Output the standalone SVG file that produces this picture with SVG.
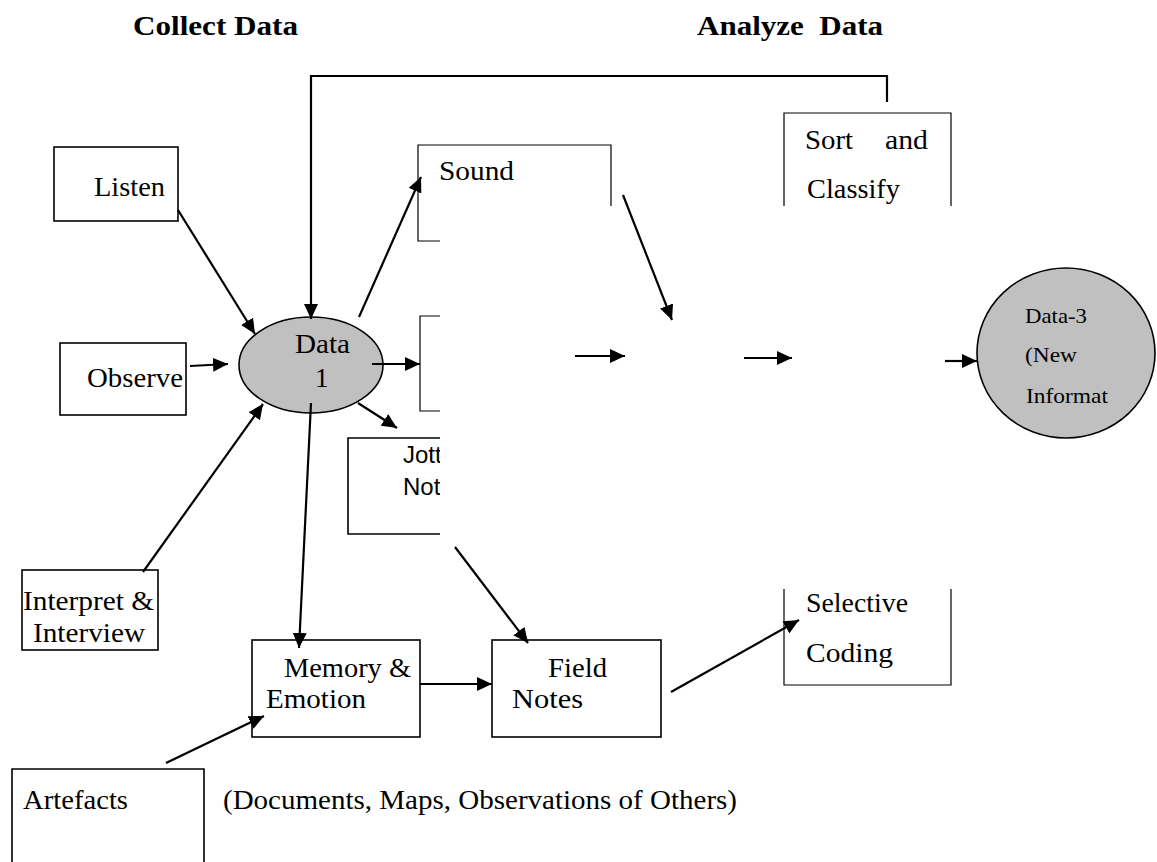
<svg xmlns="http://www.w3.org/2000/svg" width="1157" height="862" viewBox="0 0 1157 862">
<style>
.t{font-family:"Liberation Serif","Times New Roman",serif;font-size:27px;fill:#000}
.h{font-family:"Liberation Serif","Times New Roman",serif;font-size:28px;font-weight:bold;fill:#000}
.s{font-family:"Liberation Serif","Times New Roman",serif;font-size:21px;fill:#000}
.a{font-family:"Liberation Sans",Arial,sans-serif;font-size:24px;fill:#000}
.box{fill:none;stroke:#000;stroke-width:1.6}
.thin{fill:none;stroke:#000;stroke-width:1.2}
.oval{fill:#c0c0c0;stroke:#000;stroke-width:1.6}
.con{fill:none;stroke:#000;stroke-width:2.2}
</style>
<defs>
<marker id="ah" viewBox="0 0 15 14" refX="15" refY="7" markerWidth="15" markerHeight="14" markerUnits="userSpaceOnUse" orient="auto">
<path d="M0,0 L15,7 L0,14 Z" fill="#000"/>
</marker>
<clipPath id="jclip"><rect x="0" y="0" width="440" height="862"/></clipPath>
<clipPath id="cclip"><rect x="0" y="0" width="1157" height="206"/></clipPath>
</defs>
<rect x="0" y="0" width="1157" height="862" fill="#fff"/>

<g id="titles">
<text class="h" x="133" y="35" textLength="165" lengthAdjust="spacingAndGlyphs">Collect Data</text>
<text class="h" x="697" y="35" textLength="186" lengthAdjust="spacingAndGlyphs" xml:space="preserve">Analyze  Data</text>
</g>

<g id="listen">
<rect class="box" x="54" y="147" width="124" height="74"/>
<text class="t" x="94" y="196" textLength="71" lengthAdjust="spacingAndGlyphs">Listen</text>
</g>

<g id="observe">
<rect class="box" x="60" y="343" width="126" height="72"/>
<text class="t" x="87" y="387" textLength="96" lengthAdjust="spacingAndGlyphs">Observe</text>
</g>

<g id="interpret">
<rect class="box" x="22" y="570" width="136" height="80"/>
<text class="t" x="23" y="610" textLength="131" lengthAdjust="spacingAndGlyphs">Interpret &amp;</text>
<text class="t" x="33" y="642" textLength="112" lengthAdjust="spacingAndGlyphs">Interview</text>
</g>

<g id="data1">
<ellipse class="oval" cx="311" cy="365" rx="72" ry="48"/>
<text class="t" x="295" y="353" textLength="55" lengthAdjust="spacingAndGlyphs">Data</text>
<text class="t" x="315" y="387">1</text>
</g>

<g id="sound">
<path class="thin" d="M611,206 V145 H418 V241 H440"/>
<text class="t" x="439" y="180" textLength="75" lengthAdjust="spacingAndGlyphs">Sound</text>
</g>

<g id="middle-box">
<path class="thin" d="M440,316 H420 V411 H440"/>
</g>

<g id="jotted">
<path class="box" d="M440,438 H348 V534 H440"/>
<g clip-path="url(#jclip)">
<text class="a" x="403" y="463">Jott</text>
<text class="a" x="403" y="495">Not</text>
</g>
</g>

<g id="sort">
<path class="thin" d="M784,206 V113 H951 V206"/>
<text class="t" x="805" y="149" textLength="48" lengthAdjust="spacingAndGlyphs">Sort</text>
<text class="t" x="885" y="149" textLength="43" lengthAdjust="spacingAndGlyphs">and</text>
<g clip-path="url(#cclip)">
<text class="t" x="807" y="198" textLength="93" lengthAdjust="spacingAndGlyphs">Classify</text>
</g>
</g>

<g id="data3">
<ellipse class="oval" cx="1066" cy="353" rx="89" ry="85"/>
<text class="s" x="1025" y="323" textLength="62" lengthAdjust="spacingAndGlyphs">Data-3</text>
<text class="s" x="1025" y="362" textLength="52" lengthAdjust="spacingAndGlyphs">(New</text>
<text class="s" x="1026" y="403" textLength="82" lengthAdjust="spacingAndGlyphs">Informat</text>
</g>

<g id="memory">
<rect class="box" x="252" y="640" width="168" height="97"/>
<text class="t" x="284" y="677" textLength="127" lengthAdjust="spacingAndGlyphs">Memory &amp;</text>
<text class="t" x="266" y="708" textLength="100" lengthAdjust="spacingAndGlyphs">Emotion</text>
</g>

<g id="field-notes">
<rect class="box" x="492" y="640" width="169" height="97"/>
<text class="t" x="548" y="677" textLength="59" lengthAdjust="spacingAndGlyphs">Field</text>
<text class="t" x="512" y="708" textLength="71" lengthAdjust="spacingAndGlyphs">Notes</text>
</g>

<g id="selective">
<path class="thin" d="M784,589 V685 H951 V589"/>
<text class="t" x="806" y="612" textLength="102" lengthAdjust="spacingAndGlyphs">Selective</text>
<text class="t" x="806" y="662" textLength="87" lengthAdjust="spacingAndGlyphs">Coding</text>
</g>

<g id="artefacts">
<path class="box" d="M12,870 V769 H204 V870"/>
<text class="t" x="23" y="809" textLength="105" lengthAdjust="spacingAndGlyphs">Artefacts</text>
</g>

<g id="note">
<text class="t" x="223" y="809" textLength="514" lengthAdjust="spacingAndGlyphs">(Documents, Maps, Observations of Others)</text>
</g>

<g id="connectors">
<path class="con" d="M887,102 V76 H311 V319" marker-end="url(#ah)"/>
<line class="con" x1="178" y1="210" x2="255" y2="334" marker-end="url(#ah)"/>
<line class="con" x1="190" y1="366" x2="228" y2="364" marker-end="url(#ah)"/>
<line class="con" x1="143" y1="572" x2="263" y2="404" marker-end="url(#ah)"/>
<line class="con" x1="359" y1="317" x2="421" y2="177" marker-end="url(#ah)"/>
<line class="con" x1="372" y1="364" x2="420" y2="364" marker-end="url(#ah)"/>
<line class="con" x1="358" y1="403" x2="397" y2="428" marker-end="url(#ah)"/>
<line class="con" x1="311" y1="403" x2="299" y2="648" marker-end="url(#ah)"/>
<line class="con" x1="623" y1="195" x2="672" y2="320" marker-end="url(#ah)"/>
<line class="con" x1="575" y1="356" x2="625" y2="356" marker-end="url(#ah)"/>
<line class="con" x1="744" y1="358" x2="792" y2="358" marker-end="url(#ah)"/>
<line class="con" x1="945" y1="361" x2="977" y2="361" marker-end="url(#ah)"/>
<line class="con" x1="455" y1="547" x2="528" y2="643" marker-end="url(#ah)"/>
<line class="con" x1="420" y1="684" x2="492" y2="684" marker-end="url(#ah)"/>
<line class="con" x1="671" y1="692" x2="799" y2="620" marker-end="url(#ah)"/>
<line class="con" x1="166" y1="763" x2="264" y2="716" marker-end="url(#ah)"/>
</g>
</svg>
